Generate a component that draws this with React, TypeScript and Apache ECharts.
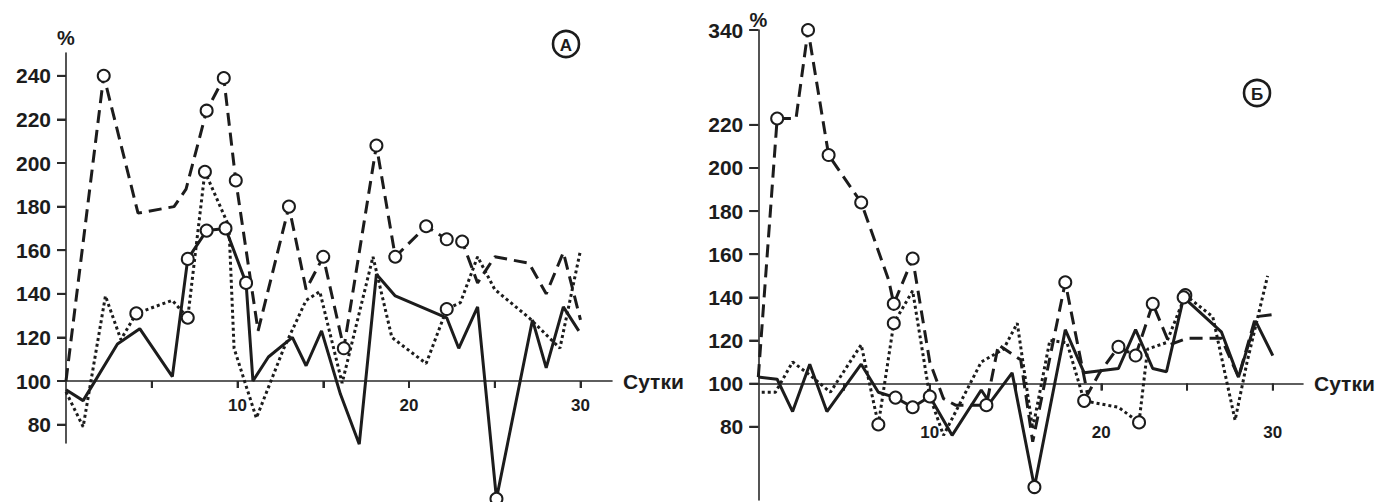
import React, { useEffect, useRef } from "react";
import * as echarts from "echarts";

// [day, value(%), circle marker 1/0]
const aSolid: number[][] = [
  [0, 96, 0], [1, 91, 0], [3, 117, 0], [4.3, 124, 0], [6.2, 102, 0], [7.1, 156, 1], [8.2, 169, 1],
  [9.3, 170, 1], [10.5, 145, 1], [10.9, 100, 0], [11.8, 111, 0], [13.2, 120, 0], [14, 107, 0],
  [14.9, 123, 0], [16, 94, 0], [17.1, 71, 0], [18.1, 149, 0], [19.2, 139, 0], [22.2, 129, 0],
  [22.9, 115, 0], [24, 134, 0], [25.1, 46, 1], [27.2, 128, 0], [28, 106, 0], [29, 134, 0], [29.9, 123, 0],
];
const aDashed: number[][] = [
  [0, 100, 0], [2.2, 240, 1], [4.2, 177, 0], [6.3, 180, 0], [7, 188, 0], [8.2, 224, 1], [9.2, 239, 1],
  [9.9, 192, 1], [11.2, 123, 0], [13, 180, 1], [14, 142, 0], [15, 157, 1], [16.2, 115, 1], [18.1, 208, 1],
  [19.2, 157, 1], [21, 171, 1], [22.2, 165, 1], [23.1, 164, 1], [24, 145, 0], [25, 157, 0], [27, 154, 0],
  [28, 140, 0], [29, 159, 0], [30, 128, 0],
];
const aDotted: number[][] = [
  [0, 95, 0], [1, 79, 0], [2.3, 139, 0], [3.2, 119, 0], [4.1, 131, 1], [6.2, 137, 0], [7.1, 129, 1],
  [8.1, 196, 1], [9.5, 171, 0], [9.8, 115, 0], [11.1, 83, 0], [12.7, 115, 0], [14, 137, 0], [14.8, 141, 0],
  [16.1, 99, 0], [17.9, 157, 0], [19, 120, 0], [21, 108, 0], [22.2, 133, 1], [23, 136, 0], [24, 157, 0],
  [25, 142, 0], [27, 129, 0], [28.8, 115, 0], [30, 160, 0],
];

const bSolid: number[][] = [
  [0, 103, 0], [1.1, 102, 0], [2, 87, 0], [3, 109, 0], [4, 87, 0], [6, 109, 0], [7, 96, 0], [8, 93.5, 1],
  [9, 89, 1], [10, 94, 1], [11.3, 76, 0], [13, 97, 0], [13.5, 91, 0], [14.8, 105, 0], [16.1, 52, 1],
  [17.9, 125, 0], [19, 105, 0], [21, 107, 0], [22, 125, 0], [23, 107, 0], [23.8, 105.5, 0], [24.8, 140, 1],
  [27, 124, 0], [28, 103, 0], [29, 129, 0], [30, 113, 0],
];
const bDashed: number[][] = [
  [0, 103, 0], [1.1, 228, 1], [2.2, 228, 0], [2.9, 340, 1], [4.1, 206, 1], [6, 184, 1], [7.6, 148, 0],
  [7.9, 137, 1], [9, 158, 1], [10, 110, 0], [10.8, 93, 0], [11.5, 90, 0], [12.2, 90, 0], [13.3, 90, 1],
  [14, 118, 0], [15.3, 111, 0], [16, 73, 0], [17.9, 147, 1], [19.2, 95, 0], [19.9, 105, 0], [21, 117, 1],
  [22, 113, 1], [23, 137, 1], [24, 118, 0], [25, 121, 0], [27, 121, 0], [28, 103, 0], [29, 131, 0], [30, 132, 0],
];
const bDotted: number[][] = [
  [0.2, 96, 0], [1, 96, 0], [2, 110, 0], [3, 104, 0], [4.2, 96, 0], [6, 118, 0], [7, 81, 1], [7.9, 128, 1],
  [9, 143, 0], [10, 94, 0], [10.8, 76, 0], [13, 110, 0], [14.3, 116, 0], [15.1, 128, 0], [16, 79, 0],
  [17, 120, 0], [18, 119, 0], [19, 92, 1], [21, 89, 0], [22.2, 82, 1], [22.7, 116, 0], [23.8, 119, 0],
  [24.9, 141, 1], [26.5, 131, 0], [27.8, 83, 0], [28.5, 110, 0], [29.7, 150, 0],
];

const aYTicks = [80, 100, 120, 140, 160, 180, 200, 220, 240];
const bYTicks = [80, 100, 120, 140, 160, 180, 200, 220, 340];
const xTickDays = [5, 10, 15, 20, 25, 30];
const xLabelDays = [10, 20, 30];
const panelLabels = ["А", "Б"];
const xName = "Сутки";
const yName = "%";

const K = 44 / 120; // compression above 220 on panel Б (broken axis)
const tA = (v: number) => v - 100;
const tB = (v: number) => (v <= 220 ? v - 100 : 120 + (v - 220) * K);

const INK = "#1c1c1c";
const AXIS = "#2a2a2a";
const FONT = "Liberation Sans, Arial, sans-serif";

function mkSeries(points: number[][], tf: (v: number) => number, kind: string, idx: number) {
  const lineStyle: any = { color: INK, width: 3 };
  if (kind === "dashed") lineStyle.type = [13, 7];
  if (kind === "dotted") lineStyle.type = [3, 3];
  return {
    type: "line",
    xAxisIndex: idx,
    yAxisIndex: idx,
    data: points.map(([d, v, c]) => ({
      value: [d, tf(v)],
      symbol: c ? "emptyCircle" : "none",
      symbolSize: 12,
    })),
    symbol: "none",
    showSymbol: true,
    showAllSymbol: true,
    clip: false,
    lineStyle,
    itemStyle: { color: INK, borderWidth: 1.6 },
  };
}

// tick marks as rect symbols placed through the axes' scales
function yTickSeries(ticks: number[], tf: (v: number) => number, idx: number) {
  return {
    type: "scatter",
    xAxisIndex: idx,
    yAxisIndex: idx,
    data: ticks.map((t) => [0, tf(t)]),
    symbol: "rect",
    symbolSize: [9, 2],
    symbolOffset: [-4.5, 0],
    itemStyle: { color: AXIS },
    clip: false,
    silent: true,
    z: 1,
  };
}
function xTickSeries(idx: number) {
  return {
    type: "scatter",
    xAxisIndex: idx,
    yAxisIndex: idx,
    data: xTickDays.map((d) => [d, 0]),
    symbol: "rect",
    symbolSize: [2, 7],
    symbolOffset: [0, 3.5],
    itemStyle: { color: AXIS },
    clip: false,
    silent: true,
    z: 1,
  };
}

function xAxisCfg(idx: number, max: number, offset: number, labelMargin: number) {
  return {
    type: "value",
    gridIndex: idx,
    position: "bottom",
    offset,
    min: 0,
    max,
    interval: 5,
    name: xName,
    nameLocation: "end",
    nameGap: 11,
    nameTextStyle: { fontFamily: FONT, fontWeight: "bold", fontSize: 21, color: INK, verticalAlign: "middle", padding: [0, 0, 8, 0] },
    axisLine: { show: true, onZero: false, lineStyle: { color: AXIS, width: 1.6 } },
    axisTick: { show: true, length: 7, lineStyle: { color: AXIS, width: 2 } },
    axisLabel: {
      show: true,
      margin: labelMargin,
      fontFamily: FONT,
      fontWeight: "bold",
      fontSize: 17,
      color: INK,
      showMinLabel: false,
      showMaxLabel: false,
      formatter: (val: number) => (xLabelDays.indexOf(val) >= 0 ? String(val) : ""),
    },
    splitLine: { show: false },
  };
}

function yAxisCfg(idx: number, min: number, max: number, ticks: number[], tf: (v: number) => number, nameGap: number) {
  const tv = ticks.map(tf);
  return {
    type: "value",
    gridIndex: idx,
    position: "left",
    min,
    max,
    name: yName,
    nameLocation: "end",
    nameGap,
    nameTextStyle: { fontFamily: FONT, fontWeight: "bold", fontSize: 20, color: INK, align: "center" },
    axisLine: { show: true, onZero: false, lineStyle: { color: AXIS, width: 1.6 } },
    axisTick: { show: true, customValues: tv, length: 9, lineStyle: { color: AXIS, width: 2 } },
    axisLabel: {
      customValues: tv,
      margin: 15,
      fontFamily: FONT,
      fontWeight: "bold",
      fontSize: 21,
      color: INK,
      formatter: (val: number) => {
        let best = ticks[0];
        let bd = Infinity;
        ticks.forEach((t) => {
          const d = Math.abs(tf(t) - val);
          if (d < bd) { bd = d; best = t; }
        });
        return String(best);
      },
    },
    splitLine: { show: false },
  };
}

function panelBadge(cx: number, cy: number, letter: string) {
  return {
    type: "group",
    children: [
      { type: "circle", shape: { cx, cy, r: 13 }, style: { fill: "#fff", stroke: INK, lineWidth: 2.6 } },
      {
        type: "text",
        x: cx,
        y: cy + 1,
        style: { text: letter, fontFamily: FONT, fontWeight: "bold", fontSize: 17, fill: INK, align: "center", verticalAlign: "middle" },
      },
    ],
  };
}

export default function App() {
  const ref = useRef<HTMLDivElement>(null);
  useEffect(() => {
    if (!ref.current) return;
    const chart = echarts.init(ref.current, null, { renderer: "svg" });
    const pxPerDay = 17.15;
    // Panel A: y axis at x=66, x axis (100%) at y=381; grid 53..443
    const aLeft = 66, aWidth = 546, aTop = 53, aHeight = 390;
    const aMinY = -28.44, aMaxY = 150.46;
    const aZeroY = aTop + aHeight * (aMaxY / (aMaxY - aMinY));
    // Panel B: y axis at x=758.3; grid 30..500
    const bLeft = 758.3, bWidth = 544.7, bTop = 30, bHeight = 470;
    const bMinY = -54, bMaxY = 164;
    const bZeroY = bTop + bHeight * (bMaxY / (bMaxY - bMinY));
    chart.setOption({
      animation: false,
      grid: [
        { left: aLeft, top: aTop, width: aWidth, height: aHeight },
        { left: bLeft, top: bTop, width: bWidth, height: bHeight },
      ],
      xAxis: [
        xAxisCfg(0, aWidth / pxPerDay, -(aTop + aHeight - aZeroY), 16),
        xAxisCfg(1, bWidth / pxPerDay, -(bTop + bHeight - bZeroY), 40),
      ],
      yAxis: [
        yAxisCfg(0, aMinY, aMaxY, aYTicks, tA, 5),
        yAxisCfg(1, bMinY, bMaxY, bYTicks, tB, 0),
      ],
      series: [
        yTickSeries(aYTicks, tA, 0),
        xTickSeries(0),
        yTickSeries(bYTicks, tB, 1),
        xTickSeries(1),
        mkSeries(aDotted, tA, "dotted", 0),
        mkSeries(aDashed, tA, "dashed", 0),
        mkSeries(aSolid, tA, "solid", 0),
        mkSeries(bDotted, tB, "dotted", 1),
        mkSeries(bDashed, tB, "dashed", 1),
        mkSeries(bSolid, tB, "solid", 1),
      ],
      graphic: [panelBadge(566, 44, panelLabels[0]), panelBadge(1257, 93, panelLabels[1])],
    });
    return () => chart.dispose();
  }, []);
  return <div ref={ref} style={{ position: "absolute", left: 0, top: 0, width: 1392, height: 502 }} />;
}
